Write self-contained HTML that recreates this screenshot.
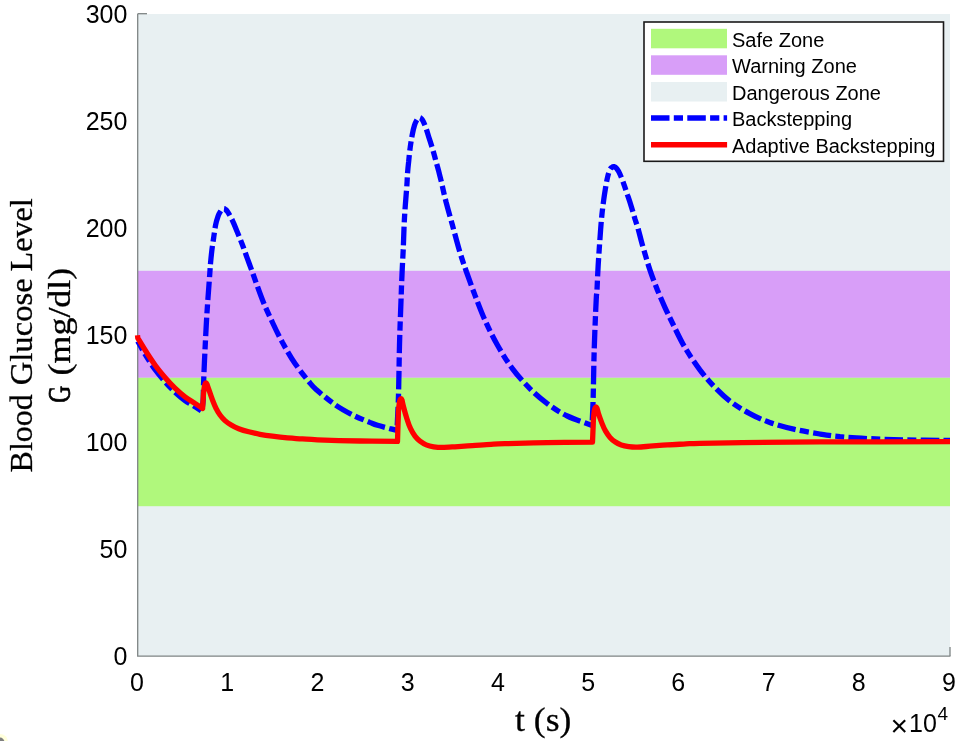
<!DOCTYPE html>
<html lang="en"><head><meta charset="utf-8"><title>Blood Glucose Level</title>
<style>html,body{margin:0;padding:0;background:#fff;overflow:hidden}svg{display:block}.tk{font-family:'Liberation Sans', Arial, sans-serif;font-size:25px;fill:#000}.lg{font-family:'Liberation Sans', Arial, sans-serif;font-size:20px;fill:#000}.sf{font-family:'Liberation Serif', 'Times New Roman', serif;fill:#000;stroke:#000;stroke-width:0.3px}</style></head><body>
<svg width="961" height="741" viewBox="0 0 961 741">
<rect x="0" y="0" width="961" height="741" fill="#fff"/>
<rect x="138.0" y="14.0" width="812.0" height="642.0" fill="#e8f0f2"/>
<rect x="138.0" y="270.8" width="812.0" height="107.0" fill="#d89ef8"/>
<rect x="138.0" y="377.8" width="812.0" height="128.4" fill="#b0f87c"/>
<g stroke="#7e8484" stroke-width="1.3" fill="none">
<path d="M137.7 13.5V656.2H950.5"/>
<path d="M950.0 656.0v-9"/>
<path d="M138.0 13.7h9"/>
</g>
<path d="M137.7 341.1C139.1 343.6 143.3 351.5 146.2 356.2C149.1 360.9 151.9 365.1 155.0 369.4C158.1 373.6 161.7 377.9 165.0 381.7C168.3 385.5 171.7 389.1 175.0 392.2C178.3 395.3 181.7 398.1 185.0 400.5C188.3 402.9 192.2 405.0 195.0 406.8C197.8 408.6 200.7 410.5 201.8 411.2C202.0 409.3 202.9 404.4 203.2 400.0C203.5 395.6 203.2 393.3 203.5 385.0C203.8 376.7 204.4 362.1 205.0 350.0C205.6 337.9 206.2 325.0 207.0 312.5C207.8 300.0 209.1 283.2 209.7 274.9C210.3 266.5 210.2 266.5 210.6 262.4C211.0 258.2 211.4 254.2 211.9 250.0C212.4 245.8 213.1 241.7 213.7 237.5C214.3 233.3 214.9 228.6 215.6 225.0C216.3 221.4 217.3 218.5 218.1 216.2C218.9 213.9 219.9 212.3 220.6 211.2C221.3 210.0 221.8 209.7 222.3 209.3C222.8 208.9 223.2 208.7 223.7 208.7C224.2 208.7 224.6 208.8 225.3 209.3C226.0 209.8 226.5 210.0 227.7 211.9C228.9 213.8 230.9 217.2 232.5 220.6C234.1 224.0 235.8 228.4 237.5 232.5C239.2 236.6 240.8 240.6 242.5 245.0C244.2 249.4 245.7 254.1 247.4 258.7C249.1 263.3 250.0 265.6 252.5 272.5C255.0 279.4 259.2 291.7 262.5 300.0C265.8 308.3 269.2 315.4 272.5 322.5C275.8 329.6 278.8 335.7 282.5 342.5C286.2 349.3 290.4 356.8 295.0 363.5C299.6 370.2 306.3 378.5 310.0 383.0C313.7 387.5 313.2 386.9 317.3 390.5C321.4 394.1 329.0 400.4 334.8 404.5C340.6 408.6 346.5 411.8 352.3 414.8C358.1 417.8 365.6 420.6 369.8 422.4C374.0 424.1 373.0 423.9 377.5 425.3C382.0 426.7 393.8 429.6 397.0 430.5C397.2 424.6 398.1 409.2 398.5 395.0C398.9 380.8 399.1 361.7 399.5 345.0C399.9 328.3 400.8 307.5 401.2 295.0C401.6 282.5 401.9 277.5 402.2 270.0C402.5 262.5 402.8 258.8 403.2 250.0C403.6 241.2 403.9 228.3 404.5 217.5C405.1 206.7 406.4 192.2 406.9 184.9C407.4 177.6 407.2 177.6 407.5 173.7C407.8 169.8 408.2 165.6 408.7 161.2C409.1 156.8 409.6 151.9 410.2 147.5C410.8 143.1 411.5 138.7 412.2 135.0C412.9 131.3 413.6 128.1 414.4 125.6C415.2 123.1 416.1 121.2 416.8 120.0C417.5 118.8 417.8 118.6 418.3 118.2C418.8 117.8 419.1 117.5 419.6 117.6C420.1 117.6 420.6 117.9 421.2 118.5C421.8 119.1 422.3 119.5 423.1 121.2C423.9 122.9 425.2 125.8 426.2 128.7C427.2 131.6 428.2 135.4 429.3 138.7C430.4 142.0 431.4 145.2 432.5 148.7C433.6 152.2 434.6 156.2 435.6 159.9C436.6 163.7 437.8 167.6 438.7 171.2C439.6 174.8 439.9 176.0 441.2 181.2C442.4 186.4 444.3 195.2 446.2 202.5C448.1 209.8 450.1 216.7 452.4 225.0C454.7 233.3 457.6 244.7 460.0 252.5C462.4 260.3 464.0 264.9 466.5 272.0C469.0 279.1 471.8 287.0 474.9 295.0C478.0 303.0 481.1 311.7 484.9 320.0C488.6 328.3 492.8 336.9 497.4 345.0C502.0 353.1 507.0 361.4 512.4 368.7C517.8 376.0 524.1 382.8 529.9 388.6C535.7 394.4 541.1 399.0 547.3 403.6C553.5 408.2 559.8 412.4 567.3 416.0C574.8 419.6 587.9 423.9 592.0 425.5C592.2 421.2 592.7 412.6 593.1 400.0C593.5 387.4 593.7 366.7 594.2 350.0C594.7 333.3 595.7 310.0 596.2 300.0C596.7 290.0 596.7 295.8 597.0 289.9C597.3 284.0 597.6 274.9 598.2 264.9C598.8 254.9 600.0 238.2 600.6 229.9C601.2 221.6 601.4 219.9 601.9 214.9C602.4 209.9 603.1 204.6 603.7 200.0C604.3 195.4 605.0 191.2 605.6 187.5C606.2 183.8 606.8 180.4 607.5 177.5C608.2 174.6 609.0 171.7 609.7 170.0C610.4 168.3 611.1 168.0 611.8 167.4C612.5 166.8 613.2 166.4 614.0 166.6C614.8 166.8 615.8 167.4 616.8 168.7C617.8 170.0 618.9 171.8 620.0 174.3C621.1 176.8 622.5 180.2 623.7 183.7C625.0 187.1 626.2 191.2 627.5 195.0C628.8 198.8 630.0 202.2 631.2 206.2C632.4 210.1 633.8 214.9 634.9 218.7C636.0 222.4 636.9 224.3 638.1 228.7C639.4 233.1 640.4 238.0 642.4 244.9C644.4 251.8 647.4 262.4 649.9 269.9C652.4 277.4 654.9 283.7 657.4 289.9C659.9 296.1 662.3 301.6 664.9 307.3C667.5 313.0 669.6 317.3 672.9 324.0C676.2 330.7 680.4 339.9 684.9 347.5C689.4 355.1 694.9 363.2 699.9 369.9C704.9 376.5 709.9 382.2 714.9 387.4C719.9 392.6 724.1 396.7 729.9 401.1C735.7 405.5 743.1 410.1 749.8 413.6C756.4 417.2 762.3 419.8 769.8 422.4C777.3 425.0 786.5 427.5 794.8 429.4C803.1 431.3 812.3 432.8 819.8 434.0C827.3 435.2 831.6 435.9 840.0 436.7C848.4 437.5 858.8 438.1 870.0 438.7C881.2 439.2 894.0 439.7 907.3 440.0C920.6 440.3 942.9 440.4 950.0 440.5" fill="none" stroke="#0000ff" stroke-width="5.3" stroke-dasharray="18.37 4.27 9.13 4.27" stroke-dashoffset="8.4" stroke-linejoin="bevel"/>
<path d="M137.5 335.3L137.8 338.1C139.2 340.4 143.3 347.3 146.2 351.8C149.1 356.3 151.9 360.7 155.0 365.0C158.1 369.3 161.7 373.6 165.0 377.5C168.3 381.4 171.7 385.0 175.0 388.2C178.3 391.4 181.7 394.3 185.0 396.8C188.3 399.3 192.1 401.4 195.0 403.4C197.9 405.3 201.3 407.6 202.6 408.5L203.5 393.7C203.6 392.6 204.0 388.6 204.3 387.0C204.6 385.4 204.9 384.5 205.2 383.8C205.5 383.1 205.7 383.0 206.0 383.0C206.3 383.0 206.3 382.6 206.9 384.0C207.5 385.4 208.5 388.5 209.4 391.2C210.3 393.9 211.4 397.1 212.5 400.0C213.6 402.9 214.9 406.2 216.2 408.7C217.4 411.2 218.5 413.0 220.0 415.0C221.5 417.0 223.1 418.9 225.0 420.6C226.9 422.3 228.9 423.6 231.2 425.0C233.5 426.4 235.8 427.6 238.7 428.7C241.6 429.8 245.2 430.9 248.7 431.8C252.2 432.7 255.9 433.6 259.9 434.3C263.8 435.0 267.8 435.6 272.4 436.2C277.0 436.8 282.4 437.4 287.4 437.8C292.4 438.2 297.4 438.6 302.4 438.9C307.4 439.2 307.9 439.4 317.5 439.8C327.1 440.2 346.7 440.8 360.0 441.0C373.3 441.2 391.2 441.2 397.5 441.3L398.4 412.0C398.5 410.5 399.0 405.1 399.3 403.0C399.6 400.9 399.9 400.2 400.2 399.5C400.5 398.8 400.7 398.6 401.0 398.6C401.3 398.7 401.4 398.3 401.9 399.8C402.3 401.3 402.9 404.4 403.7 407.5C404.5 410.6 405.8 415.2 406.9 418.7C408.0 422.2 409.2 425.8 410.6 428.7C412.0 431.6 413.4 434.1 415.0 436.2C416.6 438.3 418.1 439.8 420.0 441.2C421.9 442.6 423.9 444.0 426.2 444.9C428.5 445.8 431.0 446.4 433.7 446.8C436.4 447.2 438.9 447.4 442.4 447.4C445.9 447.4 449.9 447.1 454.9 446.8C459.9 446.5 466.4 446.0 472.4 445.6C478.4 445.2 485.7 444.6 491.1 444.3C496.5 444.0 495.5 444.0 504.9 443.7C514.3 443.4 532.7 442.9 547.3 442.6C561.9 442.3 585.0 442.2 592.5 442.1L593.4 420.0C593.5 418.5 594.0 413.0 594.3 411.0C594.6 409.0 594.9 408.5 595.2 407.8C595.5 407.1 595.7 406.9 596.0 406.9C596.3 406.9 596.4 406.8 596.9 408.0C597.4 409.2 597.9 411.8 598.7 414.3C599.5 416.8 600.8 420.3 601.9 423.1C603.0 425.9 604.2 428.8 605.6 431.2C607.0 433.6 608.4 435.6 610.0 437.4C611.6 439.2 613.1 440.6 615.0 441.8C616.9 443.1 618.9 444.1 621.2 444.9C623.5 445.7 626.0 446.2 628.7 446.6C631.4 447.0 633.9 447.2 637.4 447.1C640.9 447.0 644.9 446.6 649.9 446.2C654.9 445.8 661.4 445.3 667.4 444.9C673.4 444.5 680.7 444.2 686.1 443.9C691.5 443.6 690.5 443.5 699.9 443.3C709.3 443.1 722.3 442.8 742.3 442.6C762.3 442.4 785.2 442.0 819.8 441.9C854.4 441.8 928.3 441.7 950.0 441.7" fill="none" stroke="#ff0000" stroke-width="5.3" stroke-linejoin="round"/>
<text class="tk" x="137.0" y="691" text-anchor="middle">0</text>
<text class="tk" x="227.2" y="691" text-anchor="middle">1</text>
<text class="tk" x="317.4" y="691" text-anchor="middle">2</text>
<text class="tk" x="407.7" y="691" text-anchor="middle">3</text>
<text class="tk" x="497.9" y="691" text-anchor="middle">4</text>
<text class="tk" x="588.1" y="691" text-anchor="middle">5</text>
<text class="tk" x="678.3" y="691" text-anchor="middle">6</text>
<text class="tk" x="768.6" y="691" text-anchor="middle">7</text>
<text class="tk" x="858.8" y="691" text-anchor="middle">8</text>
<text class="tk" x="949.0" y="691" text-anchor="middle">9</text>
<text class="tk" x="127.4" y="665.3" text-anchor="end">0</text>
<text class="tk" x="127.4" y="558.3" text-anchor="end">50</text>
<text class="tk" x="127.4" y="451.3" text-anchor="end">100</text>
<text class="tk" x="127.4" y="344.3" text-anchor="end">150</text>
<text class="tk" x="127.4" y="237.3" text-anchor="end">200</text>
<text class="tk" x="127.4" y="130.3" text-anchor="end">250</text>
<text class="tk" x="127.4" y="23.3" text-anchor="end">300</text>
<text class="tk" x="890.5" y="735.5" style="font-size:30px">×</text>
<text class="tk" x="909.1" y="732.2">10</text>
<text class="tk" x="937.6" y="720" style="font-size:19px">4</text>
<text class="sf" transform="translate(543.2 730.6) scale(1.076 1)" text-anchor="middle" style="font-size:33px">t (s)</text>
<text class="sf" transform="translate(31.6 473) rotate(-90)" style="font-size:32.3px"><tspan x="0.6" textLength="78.2" lengthAdjust="spacingAndGlyphs">Blood</tspan> <tspan x="87.7" textLength="107" lengthAdjust="spacingAndGlyphs">Glucose</tspan> <tspan x="201.6" textLength="73.2" lengthAdjust="spacingAndGlyphs">Level</tspan></text>
<text class="sf" transform="translate(70.2 403) rotate(-90)" style="font-size:32px"><tspan x="0.3" textLength="16.9" lengthAdjust="spacingAndGlyphs" style="stroke-width:0.8px">G</tspan> <tspan x="27.6" textLength="107.6" lengthAdjust="spacingAndGlyphs">(mg/dl)</tspan></text>
<rect x="644" y="22" width="299.5" height="139.3" fill="#fff" stroke="#1a1a1a" stroke-width="1.6"/>
<rect x="651" y="28.8" width="76" height="19.5" fill="#b0f87c"/>
<rect x="651" y="55.3" width="76" height="19.5" fill="#d89ef8"/>
<rect x="651" y="82" width="76" height="19.5" fill="#e8f0f2"/>
<path d="M651 118H727.1" stroke="#0000ff" stroke-width="5.5" stroke-dasharray="18.5 4.3 9.2 4.3" fill="none"/>
<path d="M651 144.7H727.1" stroke="#ff0000" stroke-width="5.5" fill="none"/>
<text class="lg" x="732" y="46.8">Safe Zone</text>
<text class="lg" x="732" y="73.3">Warning Zone</text>
<text class="lg" x="732" y="99.8">Dangerous Zone</text>
<text class="lg" x="732" y="126.3">Backstepping</text>
<text class="lg" x="732" y="152.8">Adaptive Backstepping</text>
<circle cx="0" cy="742" r="8" fill="#ffffdc"/><circle cx="0" cy="742" r="4.4" fill="#7f7f7f"/>
</svg></body></html>
